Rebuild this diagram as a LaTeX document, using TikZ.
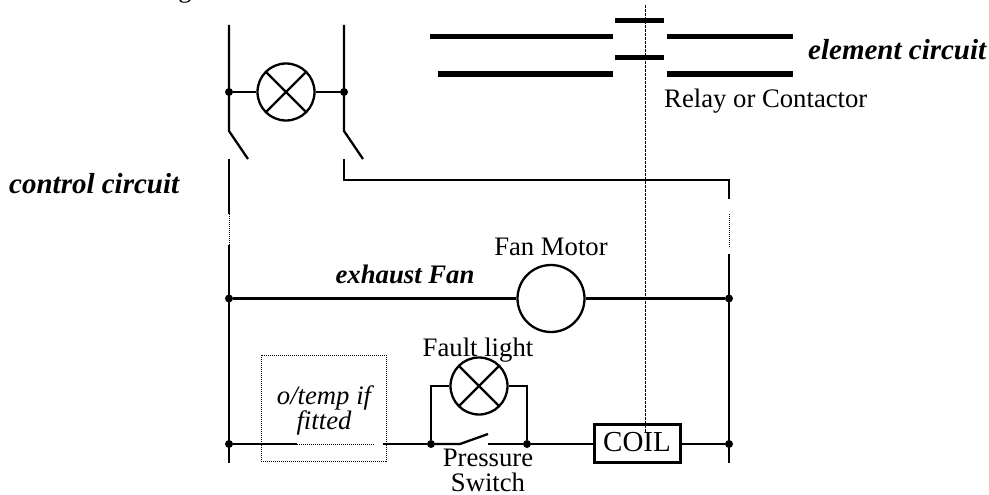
\documentclass[tikz,border=0pt]{standalone}
\usepackage{fontspec}
\setmainfont{Liberation Serif}
\tikzset{
  wire/.style={line width=2.3pt,line cap=butt},
  bar/.style={line width=5.5pt},
  thin dots/.style={line width=0.7pt,dash pattern=on 1pt off 1pt},
  dot/.style={circle,fill=black,inner sep=0pt,minimum size=8pt},
  lamp/.style={circle,draw,line width=2.3pt,inner sep=0pt,path picture={
    \draw[line width=2.3pt] (path picture bounding box.north west)--(path picture bounding box.south east)
     (path picture bounding box.north east)--(path picture bounding box.south west);}},
  lbl/.style={inner sep=0pt,font=\fontsize{26.7}{25}\selectfont,align=center},
  ilbl/.style={lbl,font=\fontsize{26.7}{25}\selectfont\itshape},
  blbl/.style={lbl,font=\fontsize{29}{30}\selectfont\bfseries\itshape},
}
\begin{document}
\begin{tikzpicture}[x=1pt,y=-1pt]
\useasboundingbox (0,0) rectangle (989,495);
\node[lbl,anchor=base] (title) at (185,-2) {g};
% rails
\coordinate (ltop) at (229,25);
\coordinate (lsw) at (229,131);
\coordinate (lswe) at (248,159);
\coordinate (l2) at (229,159);
\coordinate (l2e) at (229,214);
\coordinate (l3) at (229,245);
\coordinate (lbot) at (229,463);
\coordinate (rtop) at (344,25);
\coordinate (rsw) at (344,131);
\coordinate (rswe) at (363,159);
\coordinate (r2) at (344,159);
\coordinate (rc) at (344,180);
\coordinate (rc2) at (729,180);
\coordinate (rc3) at (729,199);
\coordinate (r3) at (729,214);
\coordinate (r3e) at (729,247);
\coordinate (r4) at (729,254);
\coordinate (rbot) at (729,463);
\node[lamp,minimum size=57pt] (lamp1) at (286,92) {};
\node[dot] (d1) at (229,92) {};
\node[dot] (d2) at (344,92) {};
\draw[wire] (ltop)--(lsw)--(lswe);
\draw[wire] (rtop)--(rsw)--(rswe);
\draw[wire] (d1)--(lamp1) (lamp1)--(d2);
\draw[wire] (l2)--(l2e);
\draw[thin dots] (l2e)--(l3);
\draw[wire] (l3)--(lbot);
\draw[wire] (r2)--(rc)--(rc2)--(rc3);
\draw[thin dots] (r3)--(r3e);
\draw[wire] (r4)--(rbot);
% contactor
\coordinate (a1) at (430,36.5); \coordinate (a2) at (613,36.5);
\coordinate (a3) at (667,36.5); \coordinate (a4) at (793,36.5);
\coordinate (b1) at (438,74); \coordinate (b2) at (613,74);
\coordinate (b3) at (667,74); \coordinate (b4) at (793,74);
\coordinate (c1) at (615,20.5); \coordinate (c2) at (664,20.5);
\coordinate (e1) at (615,57.5); \coordinate (e2) at (664,57.5);
\draw[bar] (a1)--(a2) (a3)--(a4) (b1)--(b2) (b3)--(b4);
\draw[bar] (c1)--(c2) (e1)--(e2);
\node[blbl,anchor=base west] (elem) at (808,60) {element circuit};
\node[lbl,anchor=base west] (relay) at (664,108) {Relay or Contactor};
\node[blbl,anchor=base west] (ctrl) at (9,193) {control circuit};
% fan row
\node[circle,draw,line width=2.3pt,inner sep=0pt,minimum size=67pt] (fan) at (551,298.5) {};
\node[dot] (d3) at (229,298.5) {};
\node[dot] (d4) at (729,298.5) {};
\draw[wire] (d3)--(fan) (fan)--(d4);
\node[lbl,anchor=base] (fm) at (551,255) {Fan Motor};
\node[lbl,anchor=base,font=\fontsize{26.7}{25}\selectfont\bfseries\itshape] (ex) at (405,283) {exhaust Fan};
% bottom row
\node[draw,line width=2.3pt,inner sep=0pt,minimum width=86pt,minimum height=38pt] (coil) at (637.5,443.5) {};
\node[lbl,anchor=base,font=\fontsize{29}{30}\selectfont] (coilt) at (637,451) {COIL};
\node[dot] (d5) at (229,444) {};
\node[dot] (d6) at (431,444) {};
\node[dot] (d7) at (527,444) {};
\node[dot] (d8) at (729,444) {};
\coordinate (t1) at (297,444); \coordinate (t2) at (374,444);
\coordinate (t3) at (383,444);
\coordinate (s1) at (460,444); \coordinate (s2) at (488,434); \coordinate (s3) at (488,444);
\draw[wire] (d5)--(t1);
\draw[thin dots] (t1)--(t2);
\draw[wire] (t3)--(d6);
\draw[wire] (d6)--(s1)--(s2);
\draw[wire] (s3)--(d7);
\draw[wire] (d7)--(d7-|coil.west) (coil.east|-d8)--(d8);
\node[lamp,minimum size=57pt] (lamp2) at (479,386) {};
\coordinate (n1) at (431,386); \coordinate (n2) at (527,386);
\draw[wire] (d6)--(n1)--(lamp2) (lamp2)--(n2)--(d7);
\node[lbl,anchor=base] (fl) at (478,356) {Fault light};
\node[ilbl,anchor=base] (ot) at (324,429) {o/temp if\\fitted};
\node[draw,thin dots,minimum width=125pt,minimum height=106pt,inner sep=0pt] (box) at (323.5,408) {};
\node[lbl,anchor=base] (ps) at (488,491) {Pressure\\Switch};
% dashed link
\coordinate (v2) at (645,5);
\coordinate (v3) at (645,433);
\draw[line width=0.9pt,dash pattern=on 3pt off 1pt] (v2)--(v3);
\end{tikzpicture}
\end{document}
